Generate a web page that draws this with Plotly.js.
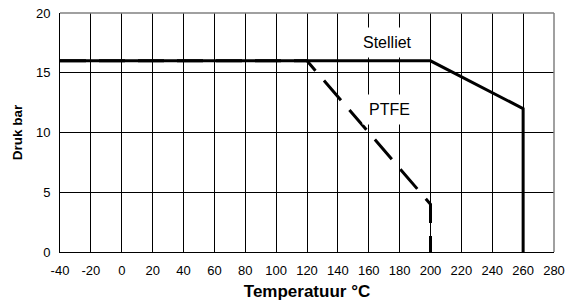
<!DOCTYPE html>
<html>
<head>
<meta charset="utf-8">
<script src="https://cdn.plot.ly/plotly-3.0.1.min.js"></script>
<style>html,body{margin:0;padding:0;background:#fff;}#chart{width:566px;height:302px;}</style>
</head>
<body>
<div id="chart"></div>
<script>
// Data
const stellietTemp = [-40, 200, 260, 260];
const stellietPressure = [16, 16, 12, 0];
const ptfeTemp = [-40, 120, 200, 200];
const ptfePressure = [16, 16, 4, 0];
const xTicks = [-40, -20, 0, 20, 40, 60, 80, 100, 120, 140, 160, 180, 200, 220, 240, 260, 280];
const yTicks = [0, 5, 10, 15, 20];
const seriesLabels = ["Stelliet", "PTFE"];
const labelPos = [[172, 17.5], [173.5, 11.95]];

const font = "Arial, 'Liberation Sans', sans-serif";

const traces = [
  {x: ptfeTemp, y: ptfePressure, mode: "lines", name: seriesLabels[1],
   line: {color: "#000", width: 3, dash: "26px,13px"}, hoverinfo: "skip"},
  {x: stellietTemp, y: stellietPressure, mode: "lines", name: seriesLabels[0],
   line: {color: "#000", width: 3}, hoverinfo: "skip"}
];

const layout = {
  width: 566, height: 302,
  margin: {l: 60, r: 12, t: 13, b: 50},
  paper_bgcolor: "#fff", plot_bgcolor: "#fff",
  showlegend: false,
  font: {family: font, size: 13, color: "#000"},
  xaxis: {
    range: [-40, 280], tickmode: "array", tickvals: xTicks,
    ticktext: xTicks.map(String),
    showgrid: true, gridcolor: "#000", gridwidth: 1,
    zeroline: false, showline: true, linecolor: "#000", linewidth: 1,
    ticks: "", ticklen: 0, ticklabelstandoff: 6,
    tickfont: {family: font, size: 13, color: "#000"},
    title: {text: "Temperatuur °C", font: {family: font, size: 17, color: "#000", weight: "bold"}, standoff: 8}
  },
  yaxis: {
    range: [0, 20], tickmode: "array", tickvals: yTicks,
    ticktext: yTicks.map(String),
    showgrid: true, gridcolor: "#000", gridwidth: 1,
    zeroline: false, showline: true, linecolor: "#000", linewidth: 1,
    ticks: "", ticklabelstandoff: 6,
    tickfont: {family: font, size: 13, color: "#000"},
    title: {text: "Druk bar", font: {family: font, size: 13.5, color: "#000", weight: "bold"}, standoff: 10}
  },
  shapes: [
    {type: "line", xref: "paper", yref: "paper", x0: 0, x1: 1, y0: 1, y1: 1, line: {color: "#808080", width: 1.5}, layer: "above"},
    {type: "line", xref: "paper", yref: "paper", x0: 1, x1: 1, y0: 0, y1: 1, line: {color: "#808080", width: 1.5}, layer: "above"}
  ],
  annotations: seriesLabels.map((t, i) => ({
    x: labelPos[i][0], y: labelPos[i][1], xref: "x", yref: "y",
    text: t, showarrow: false, bgcolor: "#fff", borderpad: 6,
    font: {family: font, size: 16, color: "#000"}
  }))
};

Plotly.newPlot("chart", traces, layout, {displayModeBar: false, staticPlot: true});
</script>
</body>
</html>
